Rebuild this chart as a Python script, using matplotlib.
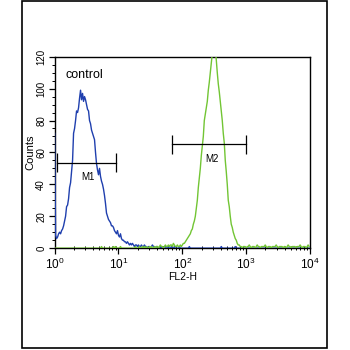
import numpy as np
import matplotlib
matplotlib.use("Agg")
import matplotlib.pyplot as plt
from matplotlib.ticker import MultipleLocator, LogLocator, NullFormatter, FixedLocator, FixedFormatter
from matplotlib.patches import Rectangle

plt.rcParams["font.family"] = ["Liberation Sans", "DejaVu Sans"]
plt.rcParams["mathtext.fontset"] = "custom"
plt.rcParams["mathtext.rm"] = "Liberation Sans"
plt.rcParams["mathtext.it"] = "Liberation Sans"

# 256 log-scaled channels over four decades of FL2-H
n_channels = 256
channels_per_decade = 64

# Control (isotype) histogram counts per channel
control_counts = [
    72, 8, 6, 7, 9, 10, 9, 11, 12, 14, 17, 20, 26, 27, 31, 38,
    41, 48, 55, 72, 75, 80, 86, 85, 88, 94, 99, 93, 97, 92, 95, 93,
    90, 87, 86, 80, 78, 74, 72, 70, 68, 60, 53, 49, 46, 50, 45, 42,
    40, 37, 33, 28, 22, 20, 18, 17, 16, 14, 14, 13, 11, 10, 9, 11,
    8, 7, 9, 6, 5, 5, 4, 4, 3, 4, 3, 2, 3, 2, 3, 2,
    1, 2, 2, 1, 2, 1, 1, 2, 1, 1, 2, 1, 1, 0, 1, 1,
    0, 1, 2, 1, 1, 0, 1, 1, 0, 0, 1, 0, 1, 0, 1, 1,
    0, 0, 1, 0, 0, 1, 0, 0, 1, 0, 0, 0, 0, 1, 0, 0,
    0, 0, 0, 0, 0, 0, 0, 1, 0, 0, 0, 0, 0, 0, 0, 0,
    0, 0, 0, 0, 0, 0, 0, 0, 0, 0, 0, 0, 0, 0, 0, 0,
    0, 0, 0, 0, 0, 0, 0, 1, 0, 0, 0, 0, 0, 0, 0, 0,
    0, 0, 0, 0, 0, 1, 0, 0, 0, 0, 0, 0, 0, 0, 0, 0,
    0, 0, 0, 0, 0, 0, 0, 0, 0, 0, 0, 0, 0, 0, 0, 0,
    0, 0, 0, 0, 0, 0, 0, 0, 0, 0, 0, 0, 0, 0, 0, 0,
    0, 0, 0, 0, 0, 0, 0, 0, 0, 0, 0, 0, 0, 0, 0, 0,
    0, 0, 0, 0, 0, 0, 0, 0, 0, 0, 0, 0, 0, 0, 0, 0,
]

# Stained sample histogram counts per channel
stained_counts = [
    0, 0, 0, 0, 0, 0, 0, 0, 0, 0, 0, 0, 0, 0, 0, 0,
    0, 0, 0, 0, 0, 0, 0, 0, 0, 0, 0, 0, 0, 0, 0, 0,
    0, 0, 0, 0, 0, 0, 0, 0, 0, 0, 0, 0, 0, 0, 0, 1,
    0, 0, 0, 0, 0, 0, 0, 0, 0, 0, 0, 1, 0, 1, 0, 0,
    0, 0, 1, 0, 0, 0, 0, 0, 0, 0, 0, 0, 0, 0, 0, 0,
    0, 1, 0, 0, 0, 1, 0, 0, 1, 0, 1, 0, 1, 0, 0, 1,
    0, 1, 0, 0, 1, 0, 1, 1, 0, 1, 2, 1, 1, 0, 1, 2,
    1, 1, 2, 1, 2, 2, 1, 3, 2, 1, 1, 2, 1, 1, 2, 1,
    2, 3, 3, 4, 5, 6, 7, 8, 9, 11, 12, 15, 17, 20, 25, 30,
    38, 44, 50, 58, 64, 70, 80, 84, 88, 92, 99, 104, 110, 116, 122, 126,
    123, 125, 118, 110, 103, 98, 92, 86, 80, 72, 66, 55, 48, 40, 30, 26,
    20, 15, 13, 10, 8, 6, 5, 3, 2, 2, 1, 1, 0, 1, 1, 1,
    0, 1, 1, 2, 1, 0, 1, 1, 1, 0, 1, 2, 1, 1, 0, 1,
    1, 1, 1, 2, 1, 0, 1, 1, 1, 0, 1, 1, 1, 1, 2, 1,
    0, 1, 1, 1, 1, 0, 1, 1, 0, 1, 2, 1, 1, 0, 1, 1,
    1, 1, 0, 1, 1, 1, 2, 1, 0, 1, 1, 1, 0, 1, 2, 1,
]

# Marker gates: (name, low, high, level)
gates = [("M1", 1.1, 9.06, 53.5), ("M2", 69.8, 1000.0, 65.0)]
gate_label_pos = [(3.3, 44.7), (290.0, 55.6)]

x_tick_values = [1, 10, 100, 1000, 10000]
x_tick_labels = [r"$\mathregular{10^{0}}$", r"$\mathregular{10^{1}}$",
                 r"$\mathregular{10^{2}}$", r"$\mathregular{10^{3}}$",
                 r"$\mathregular{10^{4}}$"]
y_tick_values = [0, 20, 40, 60, 80, 100, 120]

fl2 = 10.0 ** (np.arange(n_channels) / channels_per_decade)

fig = plt.figure(figsize=(3.5, 3.5), dpi=100)
fig.patch.set_facecolor("white")
fig.add_artist(Rectangle((0.064, 0.005), 0.870, 0.991, transform=fig.transFigure,
                         fill=False, edgecolor="black", linewidth=1.2))

ax = fig.add_axes([0.156, 0.291, 0.730, 0.547])
ax.plot(fl2, control_counts, color="#1f3fae", linewidth=1.0, zorder=3)
ax.plot(fl2, stained_counts, color="#72c534", linewidth=1.0, zorder=4)

for (name, lo, hi, level), (lx, ly) in zip(gates, gate_label_pos):
    ax.plot([lo, hi], [level, level], color="black", linewidth=0.9, zorder=5)
    ax.vlines([lo, hi], level - 6, level + 6, color="black", linewidth=0.9, zorder=5)
    ax.text(lx, ly, name, fontsize=7, ha="center", va="center", zorder=6)

ax.text(1.48, 108.7, "control", fontsize=9, ha="left", va="center")

ax.set_xscale("log")
ax.set_xlim(1, 10000)
ax.set_ylim(0, 120)

ax.xaxis.set_major_locator(FixedLocator(x_tick_values))
ax.xaxis.set_major_formatter(FixedFormatter(x_tick_labels))
ax.xaxis.set_minor_locator(LogLocator(base=10, subs=np.arange(2, 10)))
ax.xaxis.set_minor_formatter(NullFormatter())
ax.yaxis.set_major_locator(FixedLocator(y_tick_values))
ax.yaxis.set_minor_locator(MultipleLocator(5))

ax.tick_params(axis="x", which="major", direction="out", length=4, width=0.9,
               labelsize=8.5, pad=2)
ax.tick_params(axis="x", which="minor", direction="inout", length=3, width=0.7)
ax.tick_params(axis="y", which="major", direction="out", length=4, width=0.9,
               labelsize=7, pad=2)
ax.tick_params(axis="y", which="minor", direction="out", length=2, width=0.7)
for lab in ax.get_yticklabels():
    lab.set_rotation(90)
    lab.set_va("center")

for sp in ax.spines.values():
    sp.set_linewidth(1.0)

ax.set_xlabel("FL2-H", fontsize=7.5, labelpad=0)
ax.set_ylabel("Counts", fontsize=8, labelpad=1)

fig.savefig("out.png", dpi=100)
